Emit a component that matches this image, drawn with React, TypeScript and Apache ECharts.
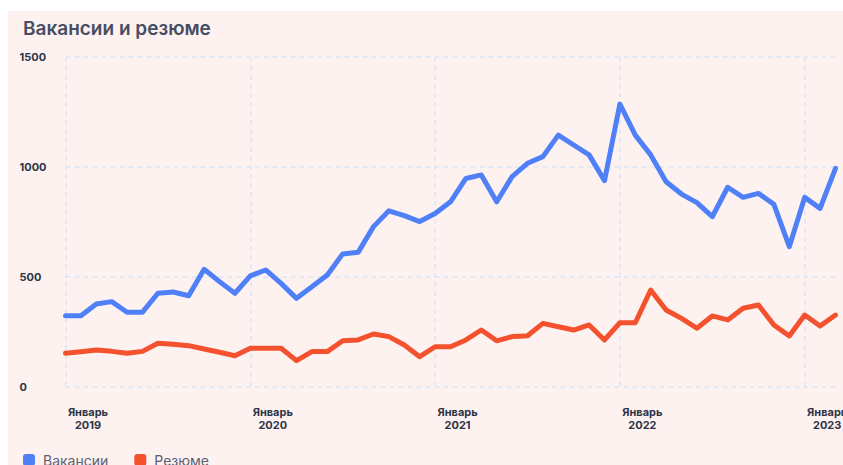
import React, { useEffect, useRef } from "react";
import * as echarts from "echarts";

const years = [2019, 2020, 2021, 2022, 2023];
const monthNames = ["Январь", "Февраль", "Март", "Апрель", "Май", "Июнь", "Июль", "Август", "Сентябрь", "Октябрь", "Ноябрь", "Декабрь"];
const monthCount = 51;

const vacancies = [
  324, 324, 377, 388, 340, 340, 426, 432, 415, 535, 479, 426,
  505, 532, 471, 403, 456, 509, 605, 612, 729, 801, 779, 752,
  789, 842, 948, 964, 842, 956, 1017, 1047, 1145, 1100, 1055, 938,
  1286, 1145, 1055, 933, 877, 838, 774, 908, 862, 880, 830, 638,
  862, 812, 994,
];

const resumes = [
  153, 160, 168, 162, 153, 162, 199, 194, 188, 173, 158, 142,
  176, 176, 176, 120, 161, 161, 210, 214, 241, 229, 191, 138,
  183, 183, 214, 259, 210, 229, 233, 289, 274, 259, 282, 214,
  292, 292, 441, 350, 312, 267, 323, 305, 358, 373, 282, 232,
  327, 277, 327,
];

const yTicks = { min: 0, max: 1500, interval: 500 };

const categories: string[] = [];
for (let i = 0; i < monthCount; i++) {
  const y = years[Math.floor(i / 12)];
  categories.push(monthNames[i % 12] + "\n" + y);
}

const FONT = "Inter, 'Noto Sans', sans-serif";

export default function App() {
  const ref = useRef<HTMLDivElement>(null);
  useEffect(() => {
    if (!ref.current) return;
    document.documentElement.style.overflow = "hidden";
    document.body.style.overflow = "hidden";
    const chart = echarts.init(ref.current, null, { renderer: "svg" });
    const isJan = (index: number) => index % 12 === 0;
    chart.setOption({
      animation: false,
      backgroundColor: "#fdf2f0",
      textStyle: { fontFamily: FONT },
      title: {
        text: "Вакансии и резюме",
        left: 10,
        top: 3,
        textStyle: { fontFamily: FONT, fontSize: 19, fontWeight: 600, color: "#474d62" },
      },
      legend: {
        left: 10,
        top: 437,
        icon: "roundRect",
        itemWidth: 12,
        itemHeight: 12,
        itemGap: 26,
        textStyle: { fontFamily: FONT, fontSize: 14, color: "#5b6073", padding: [0, 0, 0, 3] },
        data: ["Вакансии", "Резюме"],
      },
      grid: { left: 57.5, width: 770, top: 46, height: 330, containLabel: false },
      xAxis: {
        type: "category",
        data: categories,
        boundaryGap: false,
        axisLine: { show: false },
        axisTick: { show: false },
        axisLabel: {
          interval: (index: number) => isJan(index),
          formatter: (v: string) => (v.startsWith("Январь") ? v : ""),
          align: "center",
          padding: [0, 0, 0, 45],
          margin: 18,
          fontFamily: FONT,
          fontSize: 11,
          fontWeight: 700,
          lineHeight: 13,
          color: "#2f3447",
        },
        splitLine: {
          show: true,
          interval: (index: number) => isJan(index),
          lineStyle: { color: "#dce6f7", type: [5, 4], width: 1.5 },
        },
      },
      yAxis: {
        type: "value",
        min: yTicks.min,
        max: yTicks.max,
        interval: yTicks.interval,
        axisLine: { show: false },
        axisTick: { show: false },
        axisLabel: {
          align: "left",
          margin: 46,
          formatter: (v: number) => String(v),
          fontFamily: FONT,
          fontSize: 11,
          fontWeight: 700,
          color: "#2f3447",
        },
        splitLine: { lineStyle: { color: "#dce6f7", type: [5, 4], width: 1.5 } },
      },
      series: [
        {
          name: "Вакансии",
          type: "line",
          data: vacancies,
          symbol: "none",
          color: "#4f80f8",
          lineStyle: { width: 5, color: "#4f80f8", join: "round", cap: "round" },
        },
        {
          name: "Резюме",
          type: "line",
          data: resumes,
          symbol: "none",
          color: "#f4512e",
          lineStyle: { width: 5, color: "#f4512e", join: "round", cap: "round" },
        },
      ],
    });
    return () => chart.dispose();
  }, []);
  return (
    <div
      ref={ref}
      style={{ position: "fixed", left: 8, top: 11, width: 850, height: 470 }}
    />
  );
}
